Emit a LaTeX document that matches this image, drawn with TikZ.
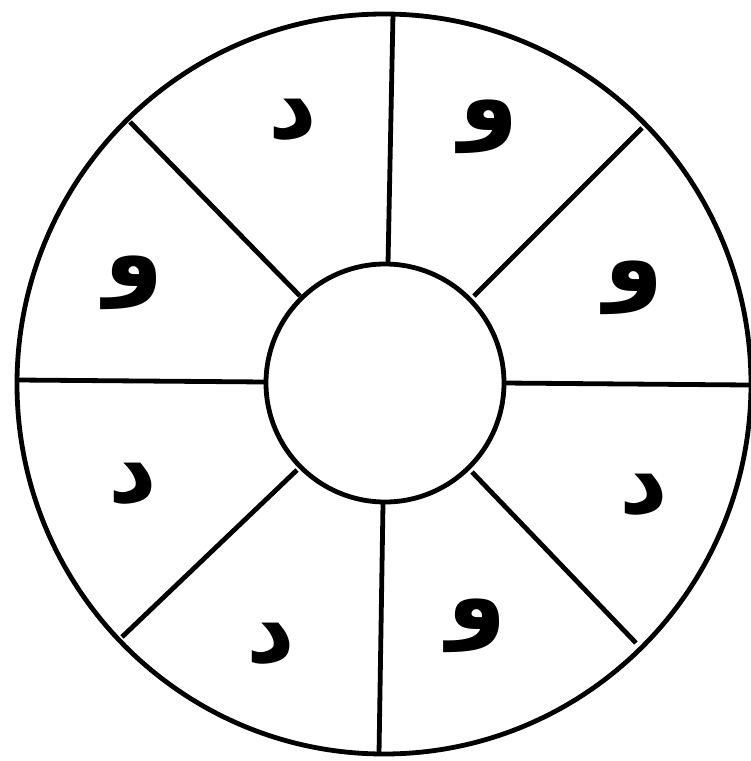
\documentclass[tikz,border=0pt]{standalone}
\usepackage{fontspec}
\newfontfamily\arabicfont[Script=Arabic]{DejaVu Sans}
\TeXXeTstate=1
\begin{document}
\begin{tikzpicture}[x=1pt,y=-1pt,
  ln/.style={line width=4.8pt,black},
  letter/.style={font=\arabicfont\bfseries\fontsize{95}{95}\selectfont,inner sep=0pt}]
\useasboundingbox (0,0) rectangle (751,761);
\coordinate (c) at (384,384);
\draw[ln] (c) ellipse [x radius=367, y radius=370];
\node[draw,ln,circle,minimum size=238pt,inner sep=0pt] (in) at (385,383) {};
% spokes
\coordinate (o1) at (393,14);
\coordinate (i1) at (388,264);
\coordinate (o2) at (642,128);
\coordinate (i2) at (474,296);
\coordinate (o3) at (749,385);
\coordinate (i3) at (504,383);
\coordinate (o4) at (636,643);
\coordinate (i4) at (472,472);
\coordinate (o5) at (379,754);
\coordinate (i5) at (383,504);
\coordinate (o6) at (122,637);
\coordinate (i6) at (297,470);
\coordinate (o7) at (18,380);
\coordinate (i7) at (266,382);
\coordinate (o8) at (130,122);
\coordinate (i8) at (300,296);
\foreach \k in {1,...,8} \draw[ln] (o\k) -- (i\k);
% letters
\node[letter] (l1) at (293,120) {\beginR د\endR};
\node[letter] (l2) at (489,127) {\beginR و\endR};
\node[letter] (l3) at (634,288) {\beginR و\endR};
\node[letter] (l4) at (644,495) {\beginR د\endR};
\node[letter] (l5) at (477,626) {\beginR و\endR};
\node[letter] (l6) at (271,644) {\beginR د\endR};
\node[letter] (l7) at (133,484) {\beginR د\endR};
\node[letter] (l8) at (134,283) {\beginR و\endR};
\end{tikzpicture}
\end{document}
